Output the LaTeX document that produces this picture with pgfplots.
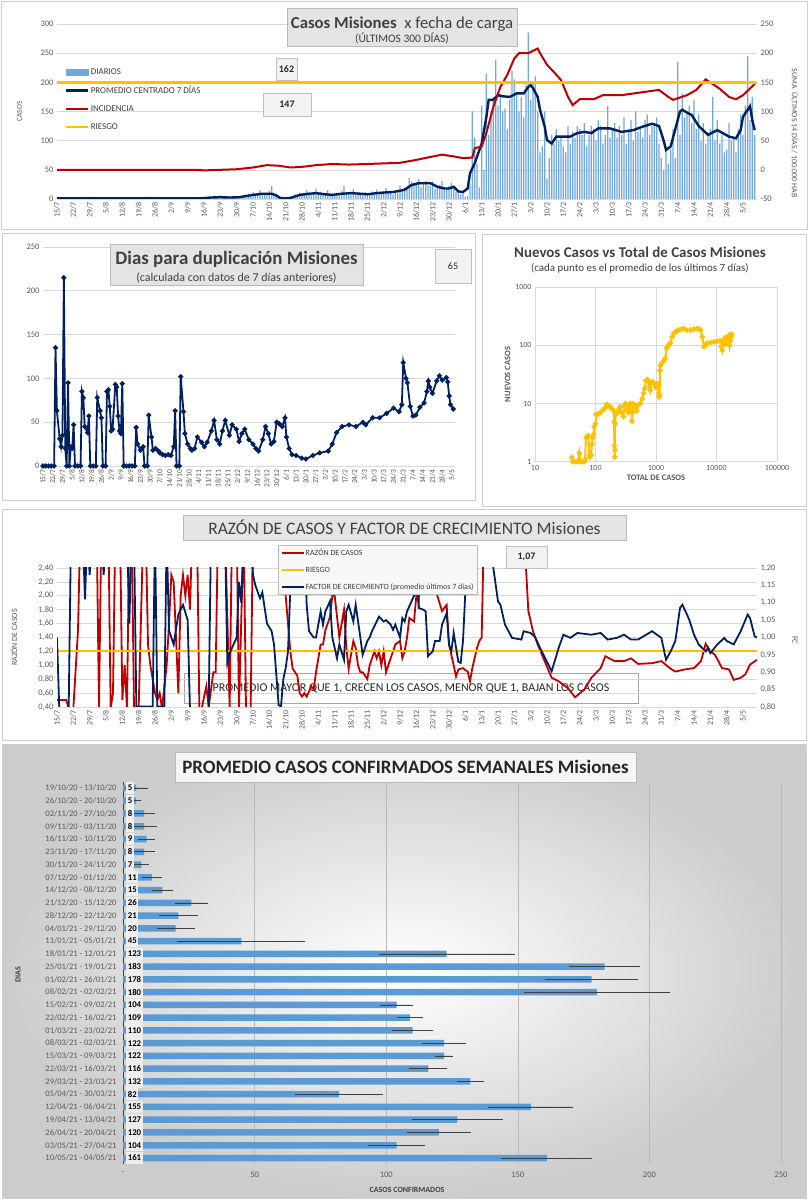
\documentclass[border=0pt]{standalone}
\usepackage{fontspec}
\setmainfont{Carlito}
\usepackage{pgfplots}
\pgfplotsset{compat=1.18}

\definecolor{navy}{RGB}{0,32,96}
\definecolor{cred}{RGB}{192,0,0}
\definecolor{cgold}{RGB}{255,192,0}
\definecolor{barblue}{RGB}{111,168,220}
\definecolor{barblue2}{RGB}{91,155,213}
\definecolor{tickgray}{RGB}{89,89,89}
\definecolor{gridgray}{RGB}{217,217,217}
\definecolor{boxgray}{RGB}{228,228,228}
\definecolor{framegray}{RGB}{205,205,205}
\definecolor{titlegray}{RGB}{64,64,64}

\pgfplotsset{
  base/.style={scale only axis, anchor=south west,
    /pgf/number format/assume math mode=true,
    tick label style={font=\fontsize{8.5}{10}\selectfont, text=tickgray},
    tick style={draw=none},
    grid style={gridgray, line width=0.6bp}},
  datex/.style={xtick={0,7,...,294},
    xticklabels={15/7,22/7,29/7,5/8,12/8,19/8,26/8,2/9,9/9,16/9,23/9,30/9,7/10,14/10,21/10,28/10,4/11,11/11,18/11,25/11,2/12,9/12,16/12,23/12,30/12,6/1,13/1,20/1,27/1,3/2,10/2,17/2,24/2,3/3,10/3,17/3,24/3,31/3,7/4,14/4,21/4,28/4,5/5},
    xticklabel style={rotate=90, anchor=east, font=\fontsize{8}{9}\selectfont}},
  linekey/.style={legend image code/.code={\draw[##1] (0bp,0bp) -- (22bp,0bp);}},
}

\begin{document}
\begin{tikzpicture}[x=1bp,y=1bp]
\path[use as bounding box] (0,0) rectangle (808,1200);
\fill[white] (0,0) rectangle (808,1200);
% panel frames
\draw[framegray, line width=0.8bp] (1,971) rectangle (807,1199);
\draw[framegray, line width=0.8bp] (2,700) rectangle (475,967);
\draw[framegray, line width=0.8bp] (482,694) rectangle (806,966);
\draw[framegray, line width=0.8bp] (2,460) rectangle (806,691);
\shade[inner color=white, outer color=gray!40] (2,2) rectangle (806,455);
\draw[framegray, line width=0.8bp] (2,2) rectangle (806,455);

% ================= PANEL 1 =================
\begin{axis}[base, at={(57bp,1001bp)}, width=700bp, height=175bp,
  xmin=0, xmax=300, ymin=0, ymax=300, ytick={0,50,...,300},
  ymajorgrids, datex,
  axis x line*=bottom, axis y line*=left,
  y axis line style={draw=none}, x axis line style={gridgray},
  ylabel={CASOS}, ylabel style={font=\fontsize{7.5}{9}\selectfont, text=tickgray, at={(-0.045,0.5)}}]
\addplot[ybar, bar width=1.3bp, fill=barblue, draw=none] coordinates {
(0,0)(1,1)(2,0)(3,2)(4,1)(5,0)(6,1)(7,3)(8,0)(9,1)
(10,1)(11,0)(12,2)(13,1)(14,0)(15,4)(16,1)(17,0)(18,2)(19,1)
(20,0)(21,3)(22,1)(23,0)(24,1)(25,2)(26,0)(27,1)(28,0)(29,2)
(30,1)(31,0)(32,3)(33,1)(34,0)(35,1)(36,2)(37,0)(38,4)(39,1)
(40,0)(41,1)(42,2)(43,0)(44,1)(45,3)(46,0)(47,1)(48,0)(49,2)
(50,1)(51,0)(52,2)(53,1)(54,3)(55,0)(56,1)(57,2)(58,0)(59,1)
(60,0)(61,1)(62,0)(63,2)(64,3)(65,1)(66,4)(67,2)(68,3)(69,1)
(70,6)(71,2)(72,3)(73,1)(74,4)(75,2)(76,3)(77,5)(78,2)(79,3)
(80,6)(81,4)(82,9)(83,5)(84,12)(85,7)(86,10)(87,15)(88,6)(89,9)
(90,8)(91,14)(92,22)(93,6)(94,9)(95,2)(96,0)(97,1)(98,0)(99,2)
(100,1)(101,4)(102,8)(103,6)(104,11)(105,9)(106,7)(107,15)(108,10)(109,6)
(110,9)(111,18)(112,8)(113,12)(114,7)(115,10)(116,15)(117,6)(118,9)(119,8)
(120,11)(121,7)(122,14)(123,22)(124,9)(125,8)(126,10)(127,17)(128,7)(129,11)
(130,9)(131,6)(132,12)(133,10)(134,8)(135,13)(136,7)(137,16)(138,11)(139,9)
(140,12)(141,19)(142,10)(143,14)(144,8)(145,13)(146,11)(147,23)(148,15)(149,18)
(150,21)(151,36)(152,30)(153,25)(154,28)(155,34)(156,20)(157,26)(158,31)(159,24)
(160,22)(161,30)(162,17)(163,19)(164,24)(165,31)(166,15)(167,18)(168,22)(169,27)
(170,20)(171,12)(172,14)(173,8)(174,10)(175,4)(176,5)(177,25)(178,150)(179,105)
(180,60)(181,20)(182,160)(183,50)(184,215)(185,110)(186,150)(187,175)(188,238)(189,160)
(190,180)(191,150)(192,155)(193,120)(194,170)(195,220)(196,205)(197,180)(198,150)(199,175)
(200,140)(201,195)(202,285)(203,170)(204,200)(205,210)(206,150)(207,80)(208,90)(209,150)
(210,35)(211,70)(212,110)(213,95)(214,120)(215,100)(216,105)(217,90)(218,80)(219,125)
(220,95)(221,115)(222,105)(223,125)(224,120)(225,110)(226,130)(227,90)(228,110)(229,125)
(230,120)(231,100)(232,135)(233,125)(234,95)(235,110)(236,160)(237,105)(238,120)(239,130)
(240,105)(241,125)(242,110)(243,140)(244,95)(245,120)(246,135)(247,100)(248,150)(249,115)
(250,120)(251,105)(252,135)(253,145)(254,110)(255,125)(256,130)(257,140)(258,95)(259,70)
(260,50)(261,90)(262,60)(263,85)(264,120)(265,70)(266,235)(267,110)(268,180)(269,140)
(270,150)(271,160)(272,130)(273,170)(274,120)(275,145)(276,100)(277,130)(278,95)(279,110)
(280,120)(281,175)(282,100)(283,135)(284,95)(285,110)(286,80)(287,85)(288,130)(289,100)
(290,105)(291,80)(292,120)(293,145)(294,110)(295,160)(296,245)(297,135)(298,175)(299,110)};
\addplot[navy, line width=2.4bp] coordinates {
(0,1)(10,1)(20,1)(30,1)(40,1)(50,1)(60,1)(63,1.5)(66,2.5)(70,3)(74,2.5)(78,3)(81,5)(84,7)(88,9)(92,9)(94,6)(96,1)(99,1)(101,3)(104,7)(108,9)(111,10)(115,8)(118,7)(122,9)(126,10)(130,9)(133,8)(137,10)(140,11)(144,12)(147,14)(149,16)(152,24)(155,27)(160,27)(163,21)(166,18)(168,18)(170,21)(172,13)(174,12)(176,18)(177,44)(179,61)(182,95)(184,140)(185,170)(187,170)(189,178)(191,176)(194,175)(197,181)(200,181)(202,192)(203,195)(204,190)(206,175)(207,153)(209,124)(210,101)(212,95)(214,107)(220,107)(223,113)(226,115)(229,113)(232,121)(237,121)(242,115)(247,118)(251,124)(255,129)(258,125)(260,100)(261,84)(263,90)(265,120)(267,150)(268,153)(270,148)(272,144)(275,125)(279,110)(283,118)(288,107)(291,104)(293,118)(294,141)(297,159)(298,135)(299,118)};
\end{axis}
\begin{axis}[base, at={(57bp,1001bp)}, width=700bp, height=175bp,
  xmin=0, xmax=300, ymin=-50, ymax=250, ytick={-50,0,...,250},
  axis y line*=right, axis x line=none, y axis line style={draw=none},
  linekey, legend cell align=left,
  legend style={at={(0.007,0.765)}, anchor=north west, draw=none, fill=none,
    font=\fontsize{9}{10}\selectfont, text=tickgray!70!black, row sep=8bp,
    nodes={inner sep=1.2bp}}]
\addlegendimage{legend image code/.code={\fill[barblue] (0bp,-3bp) rectangle (22bp,3bp);}}
\addlegendimage{navy, line width=2.5bp}
\addplot[cred, line width=2bp] coordinates {
(0,0)(30,0)(60,0)(63,-1)(70,0)(77,1)(84,4)(90,8)(95,7)(100,4)(105,5)(111,8)(118,10)(125,9)(133,10)(140,11)(147,12)(154,17)(160,22)(165,26)(170,23)(174,20)(178,21)(179,37)(182,40)(184,63)(187,108)(190,142)(193,163)(196,191)(198,200)(202,200)(206,208)(207,200)(210,180)(214,163)(216,154)(219,125)(221,111)(224,121)(230,121)(234,128)(242,128)(249,132)(258,137)(262,125)(264,120)(270,128)(274,137)(278,155)(281,147)(284,139)(288,125)(291,121)(294,128)(299,147)};
\addplot[cgold, line width=2.4bp] coordinates {(0,150)(300,150)};
\legend{DIARIOS, PROMEDIO CENTRADO 7 DÍAS, INCIDENCIA, RIESGO}
\end{axis}
\node[rotate=-90, font=\fontsize{8}{9}\selectfont, text=tickgray] at (795,1067) {SUMA\ \ ÚLTIMOS 14 DÍAS / 100.000 HAB};
\draw[gray!55, fill=boxgray] (287,1192) rectangle (517,1154);
\node[font=\fontsize{16.8}{19}\selectfont, text=titlegray] at (402,1176) {\textbf{Casos Misiones}\ \ x fecha de carga};
\node[font=\fontsize{11.5}{13}\selectfont, text=titlegray] at (402,1161) {(ÚLTIMOS 300 DÍAS)};
\draw[gray!50, fill=gray!10] (276,1142) rectangle (297,1120);
\node[font=\bfseries\fontsize{10}{12}\selectfont, text=black!85] at (286.5,1131) {162};
\draw[gray!50, fill=gray!10] (263,1107) rectangle (311,1084);
\node[font=\bfseries\fontsize{10}{12}\selectfont, text=black!85] at (287,1095.5) {147};

% ================= PANEL 2 =================
\begin{axis}[base, at={(43bp,734bp)}, width=411.7bp, height=219bp,
  xmin=0, xmax=296, ymin=0, ymax=250, ytick={0,50,...,250},
  ymajorgrids, datex, xticklabel style={font=\fontsize{7.6}{9}\selectfont},
  axis x line*=bottom, axis y line*=left,
  y axis line style={draw=none}, x axis line style={gridgray}]
\addplot[navy, line width=1.8bp, mark=*, mark size=1.5bp, mark options={fill=navy}] coordinates {
(0,0)(2,0)(4,0)(6,0)(8,0)(9,135)(10,63)(12,31)(13,22)(14,35)(15,215)(16,20)(17,0)(18,95)(19,0)(20,22)(21,20)(22,47)(23,0)(25,0)(27,0)(28,85)(29,78)(30,45)(32,38)(33,57)(34,0)(36,0)(38,0)(39,78)(41,63)(42,55)(43,0)(45,0)(46,85)(47,87)(48,68)(49,40)(50,42)(52,93)(53,90)(54,57)(55,40)(56,37)(57,94)(58,0)(60,0)(62,0)(64,0)(66,0)(67,44)(68,25)(70,18)(71,20)(72,22)(73,0)(75,0)(76,58)(78,33)(79,18)(81,20)(83,17)(84,15)(86,13)(88,12)(90,13)(92,12)(94,22)(95,63)(96,0)(98,0)(99,102)(101,62)(102,37)(104,25)(106,20)(107,18)(109,20)(111,33)(114,27)(116,22)(118,27)(121,40)(123,52)(125,30)(127,25)(129,40)(131,52)(134,35)(136,47)(139,42)(141,28)(143,37)(145,42)(148,30)(151,25)(153,20)(155,17)(158,30)(160,45)(162,37)(164,25)(166,28)(168,50)(170,48)(172,45)(174,55)(175,33)(177,20)(179,13)(182,12)(186,9)(189,8)(194,12)(199,15)(205,17)(208,25)(211,38)(215,45)(220,47)(225,45)(230,50)(232,47)(237,55)(242,55)(247,60)(252,66)(256,62)(258,70)(259,118)(261,100)(262,95)(264,68)(266,57)(268,58)(271,67)(274,72)(276,85)(277,97)(278,90)(280,83)(283,97)(285,103)(287,98)(290,101)(291,96)(292,80)(293,70)(295,65)};
\end{axis}
\draw[gray!55, fill=boxgray] (110,956) rectangle (363,915);
\node[font=\bfseries\fontsize{19}{21}\selectfont, text=titlegray] at (236.5,941) {Dias para duplicación Misiones};
\node[font=\fontsize{12}{14}\selectfont, text=titlegray] at (236.5,922) {(calculada con datos de 7 días anteriores)};
\draw[gray!50, fill=gray!10] (435,951) rectangle (471,917);
\node[font=\fontsize{10}{12}\selectfont, text=black!85] at (453,934) {65};

% ================= PANEL 3 =================
\begin{axis}[base, at={(535bp,738.3bp)}, width=242bp, height=174.4bp,
  xmode=log, ymode=log, xmin=10, xmax=100000, ymin=1, ymax=1000,
  xtick={10,100,1000,10000,100000}, xticklabels={10,100,1000,10000,100000},
  ytick={1,10,100,1000}, yticklabels={1,10,100,1000},
  tick label style={font=\fontsize{8}{9}\selectfont},
  grid=major, axis line style={gridgray},
  xlabel={TOTAL DE CASOS}, ylabel={NUEVOS CASOS},
  label style={font=\bfseries\fontsize{8.5}{10}\selectfont, text=tickgray},
  xlabel style={yshift=2bp}, ylabel style={yshift=-2bp}]
\addplot[cgold, line width=2bp, mark=*, mark size=1.6bp, mark options={fill=cgold}] coordinates {
(40.5,1.19)(42,1.0)(45,1.0)(50,1.0)(52,1.07)(54,1.4)(56,1.0)(60,1.0)(65,1.0)(67,1.1)(70,2.6)(73,2.7)(76,2.8)(79,1.3)(81,1.2)(85,1.3)(87,2.0)(90,2.6)(93,3.0)(95,4.0)(100,4.5)(102,6.5)(110,6.6)(120,7.0)(135,7.8)(145,8.5)(154,9.6)(165,9.0)(175,8.8)(190,8.0)(200,7.5)(203,4.8)(205,1.9)(207,1.2)(209,1.6)(211,4.5)(215,6.5)(230,7.0)(245,8.0)(255,8.8)(270,7.0)(290,6.0)(300,9.0)(310,10.0)(330,8.0)(350,7.0)(365,9.5)(375,10.0)(390,7.5)(400,5.0)(410,7.0)(425,10.0)(450,9.0)(480,7.5)(510,9.5)(550,10.0)(590,12.0)(625,15.0)(650,18.0)(680,25.0)(720,26.0)(750,24.0)(780,20.0)(800,17.0)(840,23.0)(880,24.0)(930,22.0)(1000,19.0)(1040,22.0)(1070,22.0)(1100,15.0)(1130,13.0)(1150,14.0)(1160,37)(1180,45)(1250,50)(1350,55)(1420,60)(1500,90)(1550,95)(1650,105)(1720,110)(1850,140)(1960,160)(2150,175)(2360,185)(2600,190)(2870,195)(3200,185)(3700,185)(4200,190)(4800,195)(5200,190)(5450,185)(5800,140)(6200,95)(6600,100)(7000,110)(8000,112)(9100,115)(10200,118)(11500,120)(12000,95)(12400,83)(12800,110)(13200,125)(13800,135)(14300,105)(15000,110)(15500,140)(16000,150)(16500,100)(17000,120)(17500,140)(17800,155)};
\end{axis}
\node[font=\bfseries\fontsize{15}{17}\selectfont, text=titlegray] at (640,948) {Nuevos Casos vs Total de Casos Misiones};
\node[font=\fontsize{11}{13}\selectfont, text=titlegray] at (640,932) {(cada punto es el promedio de los últimos 7 días)};

% ================= PANEL 4 =================
\draw[gray!70] (184,527) rectangle (638,497);
\node[font=\fontsize{12}{14}\selectfont, text=black!85] at (411,512) {PROMEDIO MAYOR QUE 1, CRECEN LOS CASOS, MENOR QUE 1, BAJAN LOS CASOS};
\begin{axis}[base, at={(57bp,493bp)}, width=700bp, height=139bp,
  xmin=0, xmax=300, ymin=0.4, ymax=2.4,
  ytick={0.4,0.6,0.8,1.0,1.2,1.4,1.6,1.8,2.0,2.2,2.4},
  yticklabel style={/pgf/number format/fixed, /pgf/number format/fixed zerofill, /pgf/number format/precision=2, /pgf/number format/use comma},
  ymajorgrids, datex,
  axis x line*=bottom, axis y line*=left,
  y axis line style={draw=none}, x axis line style={gridgray},
  ylabel={RAZÓN DE CASOS}, ylabel style={font=\fontsize{8}{9}\selectfont, text=tickgray, at={(-0.052,0.5)}}]
\addplot[cred, line width=1.8bp] coordinates {
(0,0.5)(4,0.5)(5,0.38)(7,0.38)(9,1.5)(10,3)(17,3)(18,0.38)(19,3)(22,3)(23,0.38)(24,0.6)(25,3)(27,3)(28,0.5)(29,1.0)(30,0.38)(31,3)(32,3)(33,0.38)(35,0.38)(37,3)(38,3)(39,1.3)(40,1.0)(42,0.6)(43,0.5)(44,0.6)(45,0.38)(47,1.0)(48,1.6)(49,2.3)(50,2.2)(52,0.6)(53,2.0)(54,2.3)(55,2.0)(56,2.3)(57,1.8)(58,3)(60,3)(61,0.38)(62,0.38)(64,0.7)(65,0.4)(67,0.9)(68,0.9)(69,3)(72,3)(74,0.38)(75,3)(77,3)(78,0.38)(80,3)(81,0.38)(83,0.38)(84,3)(97,3)(98,2.0)(100,1.2)(101,0.95)(103,0.85)(104,0.6)(105,0.55)(106,0.6)(107,0.55)(109,0.7)(110,0.65)(111,0.9)(113,1.3)(114,1.3)(115,1.5)(117,1.7)(118,2.0)(119,2.0)(120,1.7)(121,1.4)(123,1.8)(124,1.25)(125,0.95)(127,1.35)(128,1.25)(129,1.0)(130,0.9)(131,0.9)(133,0.8)(134,1.0)(136,1.2)(137,1.1)(138,1.2)(139,1.0)(140,1.2)(141,0.9)(143,1.1)(145,1.3)(147,1.35)(148,1.1)(149,1.2)(150,1.4)(151,1.68)(153,1.63)(154,2.0)(155,1.9)(156,3)(162,3)(163,2.0)(165,1.78)(167,1.87)(168,1.3)(170,1.0)(171,0.84)(172,0.94)(174,0.96)(175,0.93)(176,0.91)(177,0.77)(178,0.96)(180,1.25)(181,1.35)(182,1.4)(183,3)(200,3)(201,2.4)(202,1.78)(204,1.49)(206,1.3)(209,1.06)(212,0.82)(215,0.77)(219,0.67)(222,0.54)(226,0.65)(229,0.82)(233,0.96)(235,1.13)(239,1.06)(243,1.06)(246,1.1)(249,1.02)(255,1.03)(259,1.06)(263,0.95)(265,0.91)(269,0.94)(273,0.96)(276,1.06)(278,1.31)(280,1.2)(282,1.15)(285,0.96)(288,0.94)(290,0.79)(293,0.82)(295,0.87)(297,1.01)(300,1.08)};
\addplot[cgold, line width=2.2bp] coordinates {(0,1.2)(300,1.2)};
\end{axis}
\begin{axis}[base, at={(57bp,493bp)}, width=700bp, height=139bp,
  xmin=0, xmax=300, ymin=0.8, ymax=1.2,
  ytick={0.8,0.85,0.9,0.95,1.0,1.05,1.1,1.15,1.2},
  yticklabel style={/pgf/number format/fixed, /pgf/number format/fixed zerofill, /pgf/number format/precision=2, /pgf/number format/use comma},
  axis y line*=right, axis x line=none, y axis line style={draw=none},
  linekey, legend cell align=left,
  legend style={at={(0.3157,1.1655)}, anchor=north west, draw=gray!55, fill=gray!6,
    font=\fontsize{8}{9.5}\selectfont, text=tickgray!70!black, row sep=8bp,
    nodes={inner sep=1bp}, inner sep=2.5bp}]
\addlegendimage{cred, line width=2bp}
\addlegendimage{cgold, line width=2bp}
\addplot[navy, line width=1.8bp] coordinates {
(0,1.0)(1,0.79)(5,0.79)(6,1.3)(11,1.3)(12,1.11)(13,1.3)(14,1.18)(15,1.3)(19,1.3)(20,1.18)(21,1.3)(30,1.3)(31,1.04)(32,1.3)(33,1.3)(34,0.801)(41,0.801)(42,1.3)(43,0.801)(46,0.801)(47,1.3)(48,1.02)(50,0.98)(52,1.066)(54,1.094)(56,1.05)(57,0.79)(65,0.79)(66,1.3)(72,1.3)(73,0.927)(74,0.955)(77,1.0)(78,1.16)(79,1.1)(80,1.3)(83,1.3)(84,1.18)(85,1.15)(87,1.113)(88,1.13)(90,1.04)(92,1.018)(93,0.98)(94,0.893)(95,0.805)(96,0.802)(97,0.88)(98,0.912)(99,0.96)(100,1.14)(101,1.3)(106,1.3)(107,1.094)(108,1.018)(110,1.0)(111,1.0)(113,1.075)(114,1.037)(115,1.075)(117,1.104)(118,1.0)(120,0.94)(121,0.98)(123,0.936)(124,1.075)(125,1.094)(127,1.046)(128,1.094)(130,1.0)(131,0.95)(133,0.99)(134,1.0)(135,1.018)(137,1.046)(138,1.06)(140,1.046)(141,1.05)(143,1.037)(144,1.022)(145,1.037)(147,1.0)(148,1.056)(149,1.046)(150,1.075)(153,1.12)(154,1.3)(155,1.085)(157,1.08)(158,1.075)(159,0.946)(161,0.96)(162,0.99)(164,0.99)(165,1.037)(167,1.07)(168,0.98)(169,0.96)(170,1.013)(172,0.93)(173,0.927)(174,0.99)(175,1.13)(176,1.3)(186,1.3)(187,1.2)(189,1.104)(190,1.095)(192,1.037)(195,0.999)(199,0.994)(200,1.018)(203,1.013)(205,1.0)(207,0.97)(210,0.93)(212,0.903)(215,0.97)(217,1.008)(220,0.999)(223,1.013)(229,1.008)(233,1.013)(236,0.994)(240,0.999)(243,1.008)(246,0.994)(249,0.994)(255,1.018)(259,0.999)(261,0.936)(263,0.96)(265,0.99)(267,1.085)(268,1.094)(270,1.066)(271,1.05)(273,1.008)(275,0.98)(278,0.96)(279,0.97)(280,0.955)(283,0.98)(286,0.999)(287,0.99)(290,0.98)(293,1.018)(296,1.066)(297,1.056)(299,1.003)(300,1.0)};
\legend{RAZÓN DE CASOS, RIESGO, FACTOR DE CRECIMIENTO (promedio últimos 7 días)}
\end{axis}
\node[rotate=-90, font=\fontsize{8}{9}\selectfont, text=tickgray] at (795,560) {FC};
\draw[gray!55, fill=boxgray] (183,685) rectangle (626,660);
\node[font=\fontsize{17.6}{20}\selectfont, text=titlegray] at (404.5,672.5) {RAZÓN DE CASOS Y FACTOR DE CRECIMIENTO Misiones};
\draw[gray!50, fill=gray!10] (506,654) rectangle (547,632);
\node[font=\bfseries\fontsize{10}{12}\selectfont, text=black!85] at (526.5,643) {1,07};

% ================= PANEL 5 =================
\begin{axis}[base, at={(123bp,35.6bp)}, width=658bp, height=382.8bp,
  xmin=0, xmax=250, ymin=0.5, ymax=30.5,
  xtick={0,50,...,250}, xticklabels={-,50,100,150,200,250},
  ytick={1,...,30},
  yticklabels={10/05/21 - 04/05/21, 03/05/21 - 27/04/21, 26/04/21 - 20/04/21, 19/04/21 - 13/04/21, 12/04/21 - 06/04/21, 05/04/21 - 30/03/21, 29/03/21 - 23/03/21, 22/03/21 - 16/03/21, 15/03/21 - 09/03/21, 08/03/21 - 02/03/21, 01/03/21 - 23/02/21, 22/02/21 - 16/02/21, 15/02/21 - 09/02/21, 08/02/21 - 02/02/21, 01/02/21 - 26/01/21, 25/01/21 - 19/01/21, 18/01/21 - 12/01/21, 11/01/21 - 05/01/21, 04/01/21 - 29/12/20, 28/12/20 - 22/12/20, 21/12/20 - 15/12/20, 14/12/20 - 08/12/20, 07/12/20 - 01/12/20, 30/11/20 - 24/11/20, 23/11/20 - 17/11/20, 16/11/20 - 10/11/20, 09/11/20 - 03/11/20, 02/11/20 - 27/10/20, 26/10/20 - 20/10/20, 19/10/20 - 13/10/20},
  yticklabel style={xshift=-3bp},
  xticklabel style={yshift=-4bp},
  xmajorgrids, grid style={gray!55, line width=0.5bp},
  axis x line*=bottom, axis y line*=left,
  x axis line style={draw=none}, y axis line style={black!75, line width=1bp}]
\addplot[xbar, bar width=6.5bp, fill=barblue2, draw=none,
  error bars/.cd, x dir=both, x explicit,
  error bar style={black!75, line width=0.6bp},
  error mark options={black!75, line width=0.6bp, mark size=2.2bp}] coordinates {
(161,1) +- (16.5,0) (104,2) +- (10,0) (120,3) +- (11.2,0) (127,4) +- (16.5,0)
(155,5) +- (15.3,0) (82,6) +- (16,0) (132,7) +- (4.3,0) (116,8) +- (6.4,0)
(122,9) +- (2.7,0) (122,10) +- (7.4,0) (110,11) +- (7,0) (109,12) +- (4,0)
(104,13) +- (5.5,0) (180,14) +- (27,0) (178,15) +- (17,0) (183,16) +- (12.7,0)
(123,17) +- (25,0) (45,18) +- (23.5,0) (20,19) +- (6.4,0) (21,20) +- (6.6,0)
(26,21) +- (5.5,0) (15,22) +- (3.3,0) (11,23) +- (2.8,0) (7,24) +- (2,0)
(8,25) +- (3.2,0) (9,26) +- (2.3,0) (8,27) +- (3.9,0) (8,28) +- (3.2,0)
(5,29) +- (1,0) (5,30) +- (3.5,0)};
\addplot[draw=none, point meta=explicit symbolic, nodes near coords,
  nodes near coords align=horizontal,
  every node near coord/.append style={anchor=west, xshift=3bp, fill=gray!14,
    inner sep=1.6bp, minimum height=12.4bp, text=black,
    font=\bfseries\fontsize{8.8}{10}\selectfont}] coordinates {
(0.01,1)[161] (0.01,2)[104] (0.01,3)[120] (0.01,4)[127] (0.01,5)[155]
(0.01,6)[82] (0.01,7)[132] (0.01,8)[116] (0.01,9)[122] (0.01,10)[122]
(0.01,11)[110] (0.01,12)[109] (0.01,13)[104] (0.01,14)[180] (0.01,15)[178]
(0.01,16)[183] (0.01,17)[123] (0.01,18)[45] (0.01,19)[20] (0.01,20)[21]
(0.01,21)[26] (0.01,22)[15] (0.01,23)[11] (0.01,24)[7] (0.01,25)[8]
(0.01,26)[9] (0.01,27)[8] (0.01,28)[8] (0.01,29)[5] (0.01,30)[5]};
\end{axis}
\draw[gray!55, fill=gray!8] (175,448) rectangle (636,418);
\node[font=\bfseries\fontsize{19}{21}\selectfont, text=black!85] at (405.5,433) {PROMEDIO CASOS CONFIRMADOS SEMANALES Misiones};
\node[rotate=90, font=\bfseries\fontsize{8}{9}\selectfont, text=titlegray] at (18,225) {DIAS};
\node[font=\bfseries\fontsize{8}{9}\selectfont, text=titlegray] at (407,10) {CASOS CONFIRMADOS};
\end{tikzpicture}
\end{document}
